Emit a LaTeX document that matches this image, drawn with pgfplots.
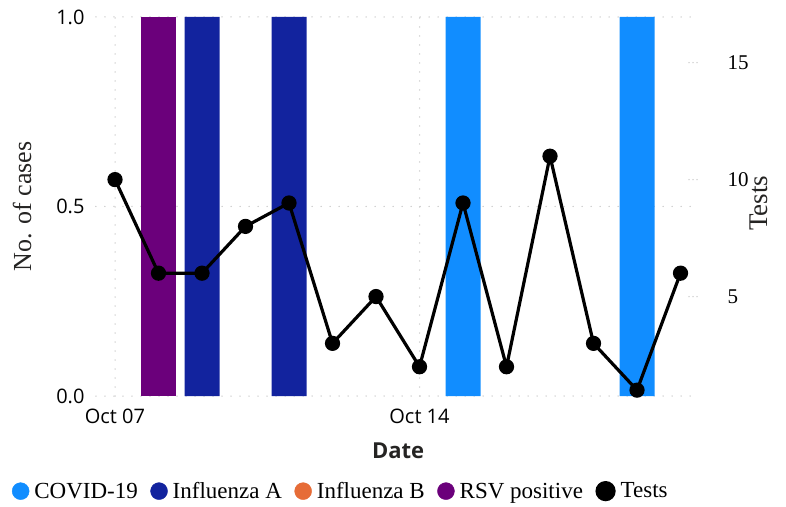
\documentclass[border=0pt]{standalone}
\usepackage{fontspec}
\setmainfont{Liberation Serif}
\newfontfamily\sansf{Open Sans}
\usepackage{pgfplots}
\pgfplotsset{compat=1.18}
\definecolor{covid}{HTML}{118DFF}
\definecolor{flua}{HTML}{12239E}
\definecolor{flub}{HTML}{E66C37}
\definecolor{rsv}{HTML}{6B007B}
\definecolor{gridc}{HTML}{C8C8C8}
\definecolor{labc}{HTML}{252423}
\begin{document}
\begin{tikzpicture}
\useasboundingbox (-96pt,-110pt) rectangle (690pt,396pt);
\begin{axis}[
  at={(0,0)}, anchor=south west,
  scale only axis, width=596pt, height=379pt,
  xmin=-0.437, xmax=13.264, ymin=0, ymax=1,
  axis line style={draw=none},
  major tick length=0pt,
  xtick={0,7}, xticklabels={Oct 07,Oct 14},
  ytick={0,0.5,1},
  yticklabel style={/pgf/number format/fixed, /pgf/number format/fixed zerofill, /pgf/number format/precision=1, /pgf/number format/assume math mode=true},
  yticklabel style={font=\sansf\fontsize{20}{24}\selectfont, xshift=-8pt},
  xticklabel style={font=\sansf\fontsize{20}{24}\selectfont, yshift=-9pt},
  grid=major,
  grid style={gridc, line width=1.5pt, line cap=round, dash pattern=on 0pt off 9pt},
  ylabel={No. of cases},
  ylabel style={at={(axis description cs:-0.124,0.5)}, anchor=center, font=\fontsize{26}{30}\selectfont, color=labc},
  xlabel={Date},
  xlabel style={at={(axis description cs:0.507,-0.1455)}, anchor=center, font=\sansf\bfseries\fontsize{22}{26}\selectfont, color=labc},
  ybar=0pt, bar width=35pt, bar shift=0pt,
]
\addplot[fill=rsv, draw=none] coordinates {(1,1)};
\addplot[fill=flua, draw=none] coordinates {(2,1) (4,1)};
\addplot[fill=covid, draw=none] coordinates {(8,1) (12,1)};
\end{axis}
\begin{axis}[
  at={(0,0)}, anchor=south west,
  scale only axis, width=596pt, height=379pt,
  xmin=-0.437, xmax=13.264, ymin=0.75, ymax=16.95,
  axis x line=none,
  axis y line*=right,
  axis line style={draw=none},
  ytick={5,10,15},
  ytick style={gridc, line width=1.5pt, line cap=round, dash pattern=on 0pt off 4pt},
  major tick length=10pt, tick align=center,
  yticklabel style={font=\fontsize{21}{25}\selectfont, anchor=west, xshift=27pt, /pgf/number format/assume math mode=true},
  ylabel={Tests},
  ylabel style={at={(axis description cs:1.112,0.509)}, anchor=center, font=\fontsize{27}{30}\selectfont, color=labc},
  legend image code/.code={\fill[#1] (8.5pt,0pt) circle (8.5pt); \path (19.5pt,0pt);},
  legend style={at={(axis description cs:-0.141,-0.251)}, anchor=west, draw=none, fill=none,
    inner sep=0pt, outer sep=0pt, font=\fontsize{23}{27}\selectfont,
    /tikz/every even column/.append style={column sep=10pt},
    nodes={inner xsep=2.5pt}},
  legend columns=-1,
]
\addlegendimage{covid, fill=covid}\addlegendentry{COVID-19}
\addlegendimage{flua, fill=flua}\addlegendentry{Influenza A}
\addlegendimage{flub, fill=flub}\addlegendentry{Influenza B}
\addlegendimage{rsv, fill=rsv}\addlegendentry{RSV positive}
\addplot[black, line width=3.2pt, mark=*, mark size=6pt] coordinates {
(0,10) (1,6) (2,6) (3,8) (4,9) (5,3) (6,5) (7,2) (8,9) (9,2) (10,11) (11,3) (12,1) (13,6)};
\addlegendentry{Tests}
\end{axis}
\end{tikzpicture}
\end{document}
